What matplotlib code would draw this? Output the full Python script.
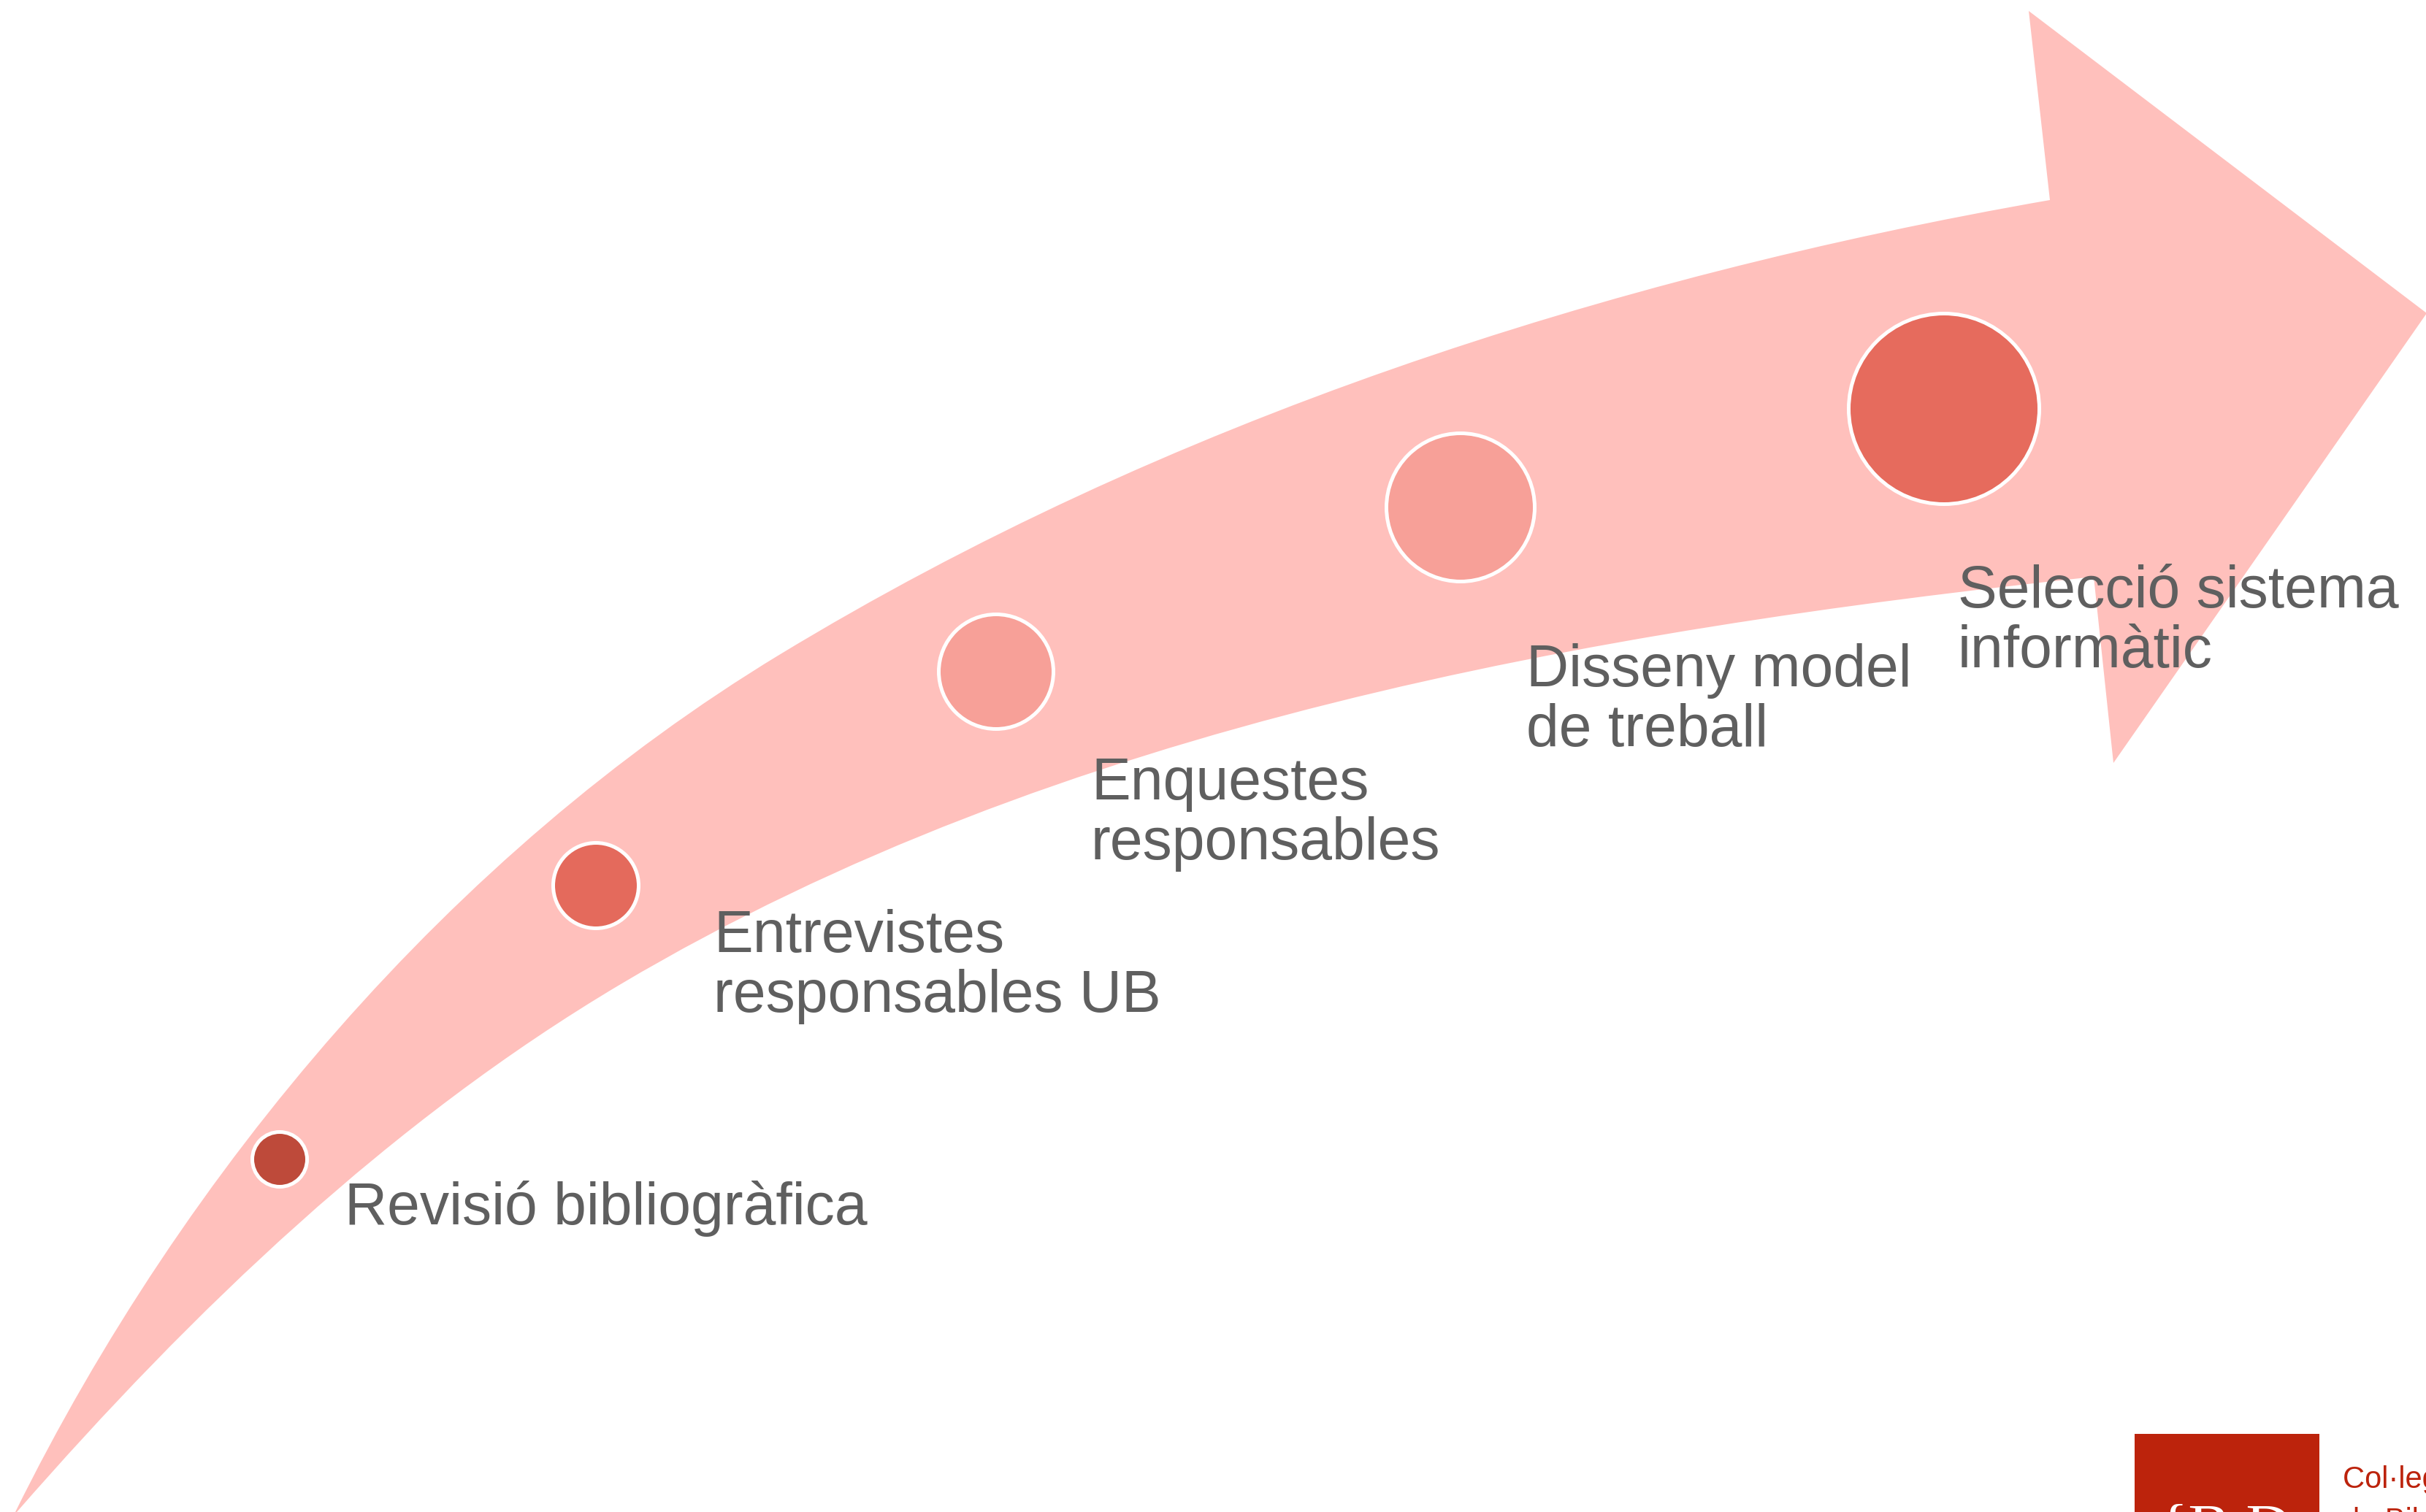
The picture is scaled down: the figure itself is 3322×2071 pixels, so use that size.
import matplotlib
matplotlib.use("Agg")
import matplotlib.pyplot as plt
from matplotlib.path import Path
from matplotlib.patches import PathPatch, Circle, Rectangle

# dades de les fases (coordenades en píxels de la imatge)
fases = [["Revisió bibliogràfica"],
         ["Entrevistes", "responsables UB"],
         ["Enquestes", "responsables"],
         ["Disseny model", "de treball"],
         ["Selecció sistema", "informàtic"]]
cercle_x = [383, 816, 1364, 2000, 2662]
cercle_y = [1588, 1213, 920, 695, 560]
cercle_r = [40, 61, 81, 104, 133]
cercle_color = ["#BE4A3A", "#E46A5C", "#F7A098", "#F7A098", "#E66B5D"]
text_x = [472, 977, 1494, 2090, 2681]
text_y = [1677, 1304, 1095, 940, 832]
interlineat = 82

W, H = 3323, 2071
fig = plt.figure(figsize=(W / 100, H / 100), dpi=100)
ax = fig.add_axes([0, 0, 1, 1])
ax.set_xlim(0, W)
ax.set_ylim(H, 0)
ax.set_aspect("equal")
ax.axis("off")

# fletxa corbada
verts = [
    (21, 2071),
    (253, 1601), (619, 1169), (1067, 897),
    (1594, 577), (2200, 380), (2807, 274),
    (2778, 15),
    (3323, 429),
    (2894, 1045),
    (2867, 790),
    (2173, 864), (1450, 992), (850, 1348),
    (535, 1535), (264, 1795), (23, 2071),
    (21, 2071),
]
codes = [Path.MOVETO,
         Path.CURVE4, Path.CURVE4, Path.CURVE4,
         Path.CURVE4, Path.CURVE4, Path.CURVE4,
         Path.LINETO, Path.LINETO, Path.LINETO, Path.LINETO,
         Path.CURVE4, Path.CURVE4, Path.CURVE4,
         Path.CURVE4, Path.CURVE4, Path.CURVE4,
         Path.CLOSEPOLY]
ax.add_patch(PathPatch(Path(verts, codes), facecolor="#FFC0BC", edgecolor="none"))

for i in range(len(fases)):
    ax.add_patch(Circle((cercle_x[i], cercle_y[i]), cercle_r[i] - 2.5,
                        facecolor=cercle_color[i], edgecolor="white", linewidth=3.6))
    for j, linia in enumerate(fases[i]):
        ax.text(text_x[i], text_y[i] + j * interlineat, linia, fontsize=58,
                family="Liberation Sans", color="#5F5F5F", ha="left", va="baseline")

# logotip (retallat a baix a la dreta)
ax.add_patch(Rectangle((2923, 1964), 253, 150, facecolor="#BC230C", edgecolor="none"))
ax.text(2955, 2120, "{B D", fontsize=62, family="Liberation Serif", color="white",
        ha="left", va="baseline")
ax.text(3208, 2038, "Col·legi Oficial", fontsize=30, family=["Liberation Sans Narrow", "Liberation Sans"],
        color="#BC230C", ha="left", va="baseline")
ax.text(3208, 2095, "de Bibliotecaris", fontsize=30, family=["Liberation Sans Narrow", "Liberation Sans"],
        color="#BC230C", ha="left", va="baseline")

fig.savefig("out.png", dpi=100)
